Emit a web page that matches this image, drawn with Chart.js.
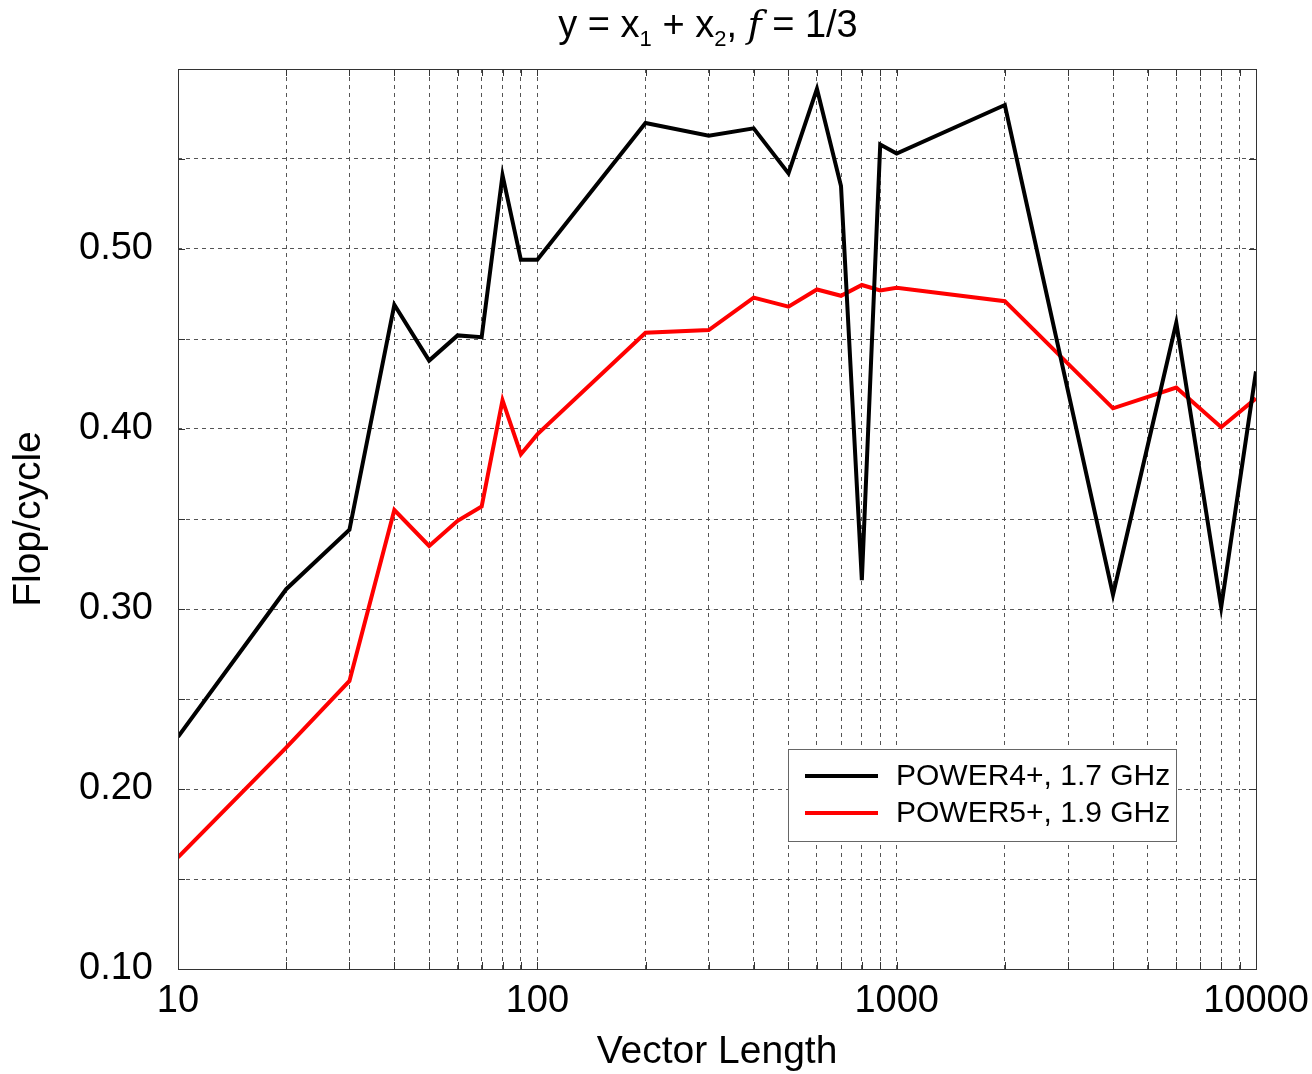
<!DOCTYPE html>
<html>
<head>
<meta charset="utf-8">
<script src="https://cdn.jsdelivr.net/npm/chart.js@4.4.1/dist/chart.umd.min.js"></script>
<style>
  body { margin: 0; background: #fff; }
  #wrap { position: relative; width: 1312px; height: 1074px; }
  #title {
    position: absolute; top: 1px; left: 308px; width: 800px;
    text-align: center; color: #000;
    font-family: "Liberation Sans", Arial, sans-serif; font-size: 38px; line-height: 46px;
  }
  #title sub { font-size: 22px; vertical-align: -9px; line-height: 0; }
  #title i { font-family: "DejaVu Serif", "Liberation Serif", serif; }
</style>
</head>
<body>
<div id="wrap">
  <canvas id="chart" width="1312" height="1074"></canvas>
  <div id="title">y = x<sub>1</sub> + x<sub>2</sub>, <i>f</i> = 1/3</div>
</div>
<script>
// vector lengths (x axis)
const lengths = [10, 20, 30, 40, 50, 60, 70, 80, 90, 100, 200, 300, 400, 500, 600, 700, 800, 900, 1000, 2000, 4000, 6000, 8000, 10000];

// flop/cycle per machine
const power4 = [0.229, 0.311, 0.344, 0.469, 0.438, 0.452, 0.451, 0.541, 0.494, 0.494, 0.570, 0.563, 0.567, 0.542, 0.589, 0.535, 0.316, 0.558, 0.553, 0.580, 0.308, 0.459, 0.301, 0.432];
const power5 = [0.162, 0.223, 0.260, 0.355, 0.335, 0.349, 0.357, 0.416, 0.386, 0.397, 0.4535, 0.455, 0.473, 0.468, 0.4775, 0.474, 0.480, 0.477, 0.4785, 0.471, 0.4115, 0.423, 0.401, 0.417];

// grid ticks
const xTicks = [10, 20, 30, 40, 50, 60, 70, 80, 90, 100, 200, 300, 400, 500, 600, 700, 800, 900,
  1000, 2000, 3000, 4000, 5000, 6000, 7000, 8000, 9000, 10000];
const xLabels = [10, 100, 1000, 10000];
const yLabels = [0.10, 0.20, 0.30, 0.40, 0.50];

const FONT = '"Liberation Sans", Arial, sans-serif';

// box, inner tick marks and the legend inside the plot
const framePlugin = {
  id: 'frame',
  afterDraw(chart) {
    const ctx = chart.ctx;
    const a = chart.chartArea;
    const xs = chart.scales.x, ys = chart.scales.y;
    ctx.save();
    ctx.strokeStyle = '#333';
    ctx.lineWidth = 1;
    ctx.beginPath();
    xs.ticks.forEach(t => {
      const px = Math.round(xs.getPixelForValue(t.value)) + 0.5;
      ctx.moveTo(px, a.bottom); ctx.lineTo(px, a.bottom - 7);
      ctx.moveTo(px, a.top); ctx.lineTo(px, a.top + 7);
    });
    ys.ticks.forEach(t => {
      const py = Math.round(ys.getPixelForValue(t.value)) + 0.5;
      ctx.moveTo(a.left, py); ctx.lineTo(a.left + 7, py);
      ctx.moveTo(a.right, py); ctx.lineTo(a.right - 7, py);
    });
    ctx.stroke();
    ctx.strokeRect(Math.round(a.left) + 0.5, Math.round(a.top) + 0.5, Math.round(a.right - a.left), Math.round(a.bottom - a.top));

    // legend
    const w = 388, h = 92;
    const lx = Math.round(a.right - 80 - w), ly = Math.round(a.bottom - 128 - h);
    ctx.fillStyle = '#fff';
    ctx.fillRect(lx, ly, w, h);
    ctx.strokeStyle = '#666';
    ctx.strokeRect(lx + 0.5, ly + 0.5, w, h);
    ctx.font = '30px ' + FONT;
    ctx.textBaseline = 'middle';
    chart.data.datasets.forEach((ds, i) => {
      const yy = ly + 27 + i * 37;
      ctx.strokeStyle = ds.borderColor;
      ctx.lineWidth = 4;
      ctx.beginPath();
      ctx.moveTo(lx + 17, yy); ctx.lineTo(lx + 90, yy);
      ctx.stroke();
      ctx.fillStyle = '#000';
      ctx.fillText(ds.label, lx + 108, yy + 1);
    });
    ctx.restore();
  }
};

new Chart(document.getElementById('chart'), {
  type: 'line',
  data: {
    datasets: [
      {
        label: 'POWER4+, 1.7 GHz',
        data: lengths.map((x, i) => ({ x: x, y: power4[i] })),
        borderColor: '#000000',
        borderWidth: 4,
        pointRadius: 0,
        tension: 0
      },
      {
        label: 'POWER5+, 1.9 GHz',
        data: lengths.map((x, i) => ({ x: x, y: power5[i] })),
        borderColor: '#ff0000',
        borderWidth: 4,
        pointRadius: 0,
        tension: 0
      }
    ]
  },
  options: {
    responsive: false,
    animation: false,
    layout: { padding: { top: 69, right: 56, left: 0, bottom: 0 } },
    plugins: {
      legend: { display: false },
      tooltip: { enabled: false }
    },
    scales: {
      x: {
        type: 'logarithmic',
        min: 10,
        max: 10000,
        afterBuildTicks: s => { s.ticks = xTicks.map(v => ({ value: v })); },
        afterFit: s => { s.height = 105; s.paddingLeft = 0; s.paddingRight = 0; },
        ticks: {
          autoSkip: false,
          maxRotation: 0,
          padding: 10,
          color: '#000',
          font: { family: FONT, size: 38 },
          callback: v => xLabels.includes(v) ? String(v) : ''
        },
        grid: { color: '#555', lineWidth: 1, drawTicks: false },
        border: { display: false, dash: [4, 4] },
        title: {
          display: true,
          text: 'Vector Length',
          color: '#000',
          font: { family: FONT, size: 39, lineHeight: 1.1 },
          padding: { top: 0, bottom: 0 }
        }
      },
      y: {
        min: 0.1,
        max: 0.6,
        afterFit: s => { s.width = 178; },
        ticks: {
          stepSize: 0.05,
          padding: 25,
          color: '#000',
          font: { family: FONT, size: 38 },
          callback: v => {
            const r = Math.round(v * 100);
            return yLabels.some(l => Math.round(l * 100) === r) ? (r / 100).toFixed(2) : '';
          }
        },
        grid: { color: '#555', lineWidth: 1, drawTicks: false },
        border: { display: false, dash: [4, 4] },
        title: {
          display: true,
          text: 'Flop/cycle',
          color: '#000',
          font: { family: FONT, size: 39, lineHeight: 1.1 },
          padding: { top: 8, bottom: 0 }
        }
      }
    }
  },
  plugins: [framePlugin]
});
</script>
</body>
</html>
